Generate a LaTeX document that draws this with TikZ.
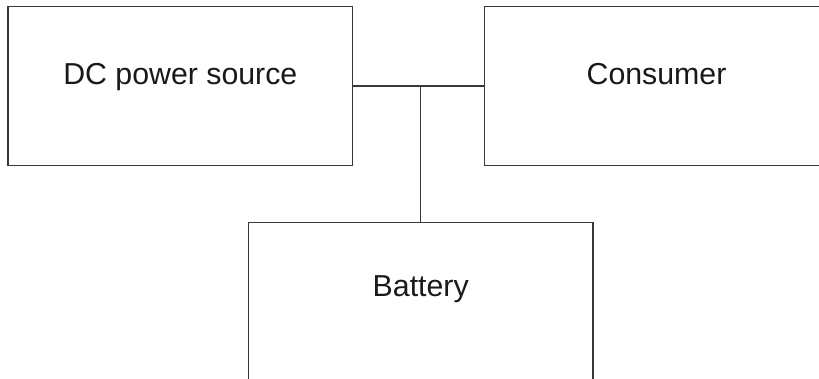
\documentclass[tikz,border=0pt]{standalone}
\usepackage{fontspec}
\setmainfont{Liberation Sans}
\usetikzlibrary{calc}
\begin{document}
\begin{tikzpicture}[x=1pt,y=-1pt,
  wire/.style={draw=black!78,line width=1.25pt},
  unit/.style={wire,rectangle,inner sep=0pt,minimum width=344.5pt,minimum height=159pt},
  caption/.style={anchor=base,inner sep=0pt,font=\fontsize{30.3}{36}\selectfont,text=black!90}]
  \useasboundingbox (0,0) rectangle (819,378);
  \clip (0,0) rectangle (819,378);
  % the three units of the system
  \node[unit] (dc) at (180.35,86) {};
  \node[unit] (consumer) at (656.5,86) {};
  \node[unit] (battery) at (420.7,302.2) {};
  % their names
  \node[caption] (dclabel) at ($(dc.north)+(0,78.5)$) {DC power source};
  \node[caption] (consumerlabel) at ($(consumer.north)+(0,78.5)$) {Consumer};
  \node[caption] (batterylabel) at ($(battery.north)+(0,74.5)$) {Battery};
  % shared bus and battery tap
  \coordinate (tap) at (battery.north |- dc.east);
  \draw[wire] (dc.east) -- (consumer.west);
  \draw[wire] (tap) -- (battery.north);
\end{tikzpicture}
\end{document}
